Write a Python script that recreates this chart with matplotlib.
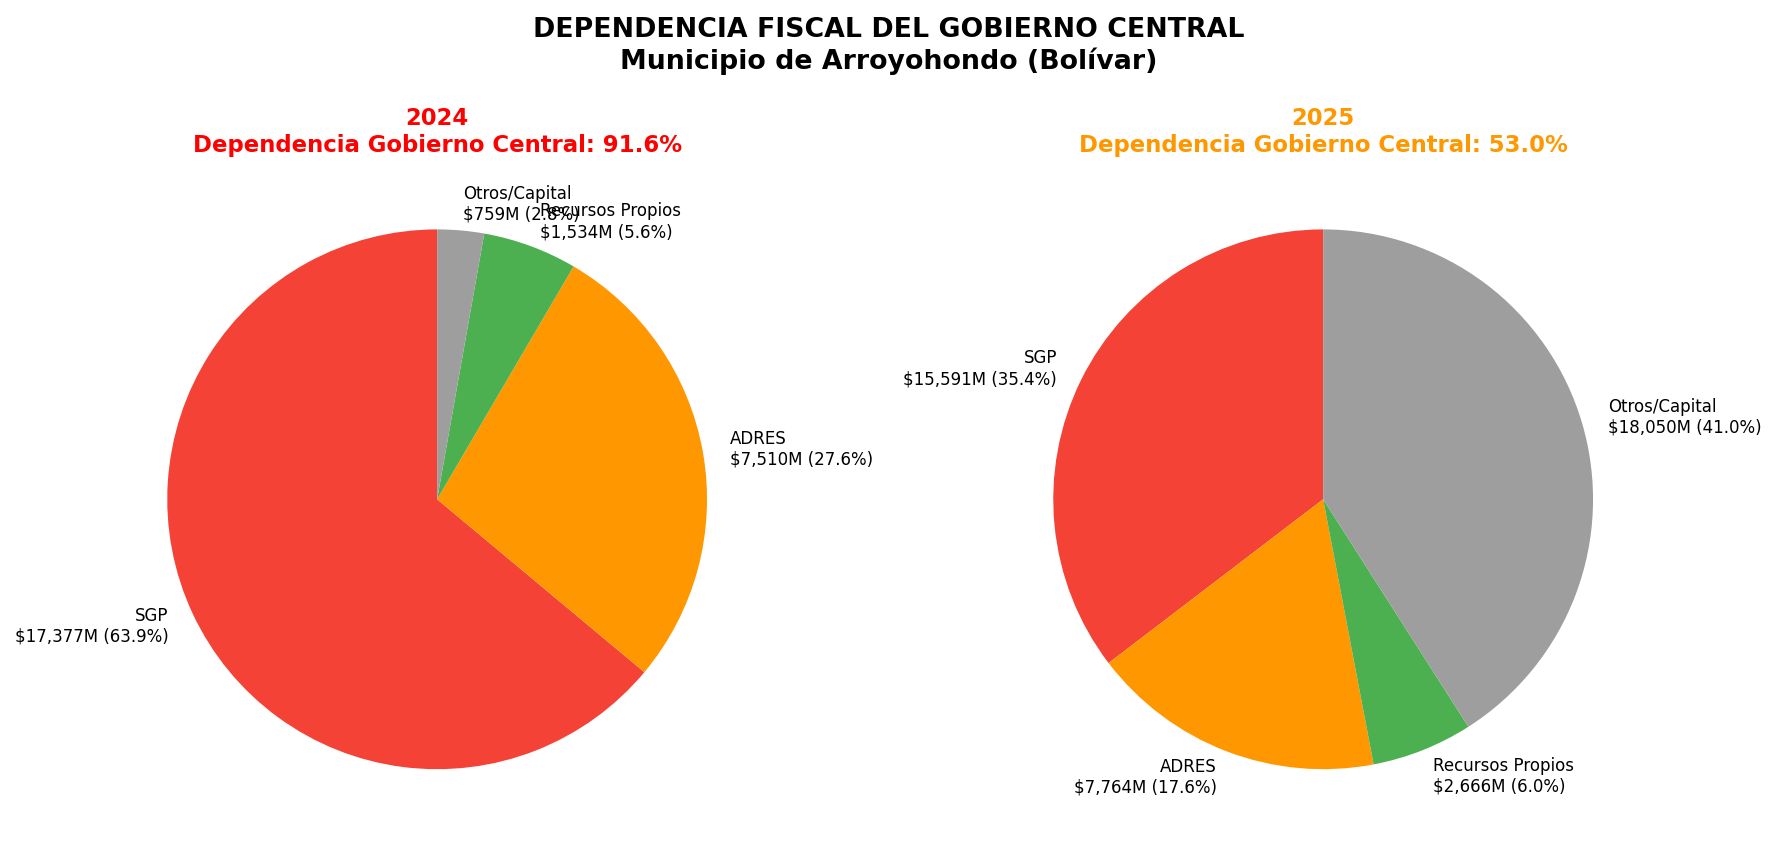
import matplotlib
matplotlib.use('Agg')
import matplotlib.pyplot as plt

# data
categorias = ['SGP', 'ADRES', 'Recursos Propios', 'Otros/Capital']
valores_2024 = [17377, 7510, 1534, 759]
valores_2025 = [15591, 7764, 2666, 18050]
dependencia_2024 = 91.6
dependencia_2025 = 53.0
colores = ['#F44336', '#FF9800', '#4CAF50', '#9E9E9E']

DPI = 100
fig = plt.figure(figsize=(1777 / DPI, 853 / DPI), dpi=DPI)

# axes placed so each pie sits where it does in the reference
ax1 = fig.add_axes([0.056, 0.018, 0.38, 0.791])
ax2 = fig.add_axes([0.5546, 0.018, 0.38, 0.791])


def make_labels(vals):
    total = sum(vals)
    return [f'{c}\n${v:,.0f}M ({v / total * 100:.1f}%)' for c, v in zip(categorias, vals)]


ax1.pie(valores_2024, labels=make_labels(valores_2024), colors=colores,
        startangle=90, textprops={'fontsize': 12})
ax1.set_title(f'2024\nDependencia Gobierno Central: {dependencia_2024:.1f}%',
              fontsize=16.4, fontweight='bold', color='red', pad=8)

ax2.pie(valores_2025, labels=make_labels(valores_2025), colors=colores,
        startangle=90, textprops={'fontsize': 12})
ax2.set_title(f'2025\nDependencia Gobierno Central: {dependencia_2025:.1f}%',
              fontsize=16.4, fontweight='bold', color='#FF9800', pad=8)

fig.suptitle('DEPENDENCIA FISCAL DEL GOBIERNO CENTRAL\nMunicipio de Arroyohondo (Bolívar)',
             fontsize=19.3, fontweight='bold', y=0.98)

fig.savefig('out.png', dpi=DPI)
